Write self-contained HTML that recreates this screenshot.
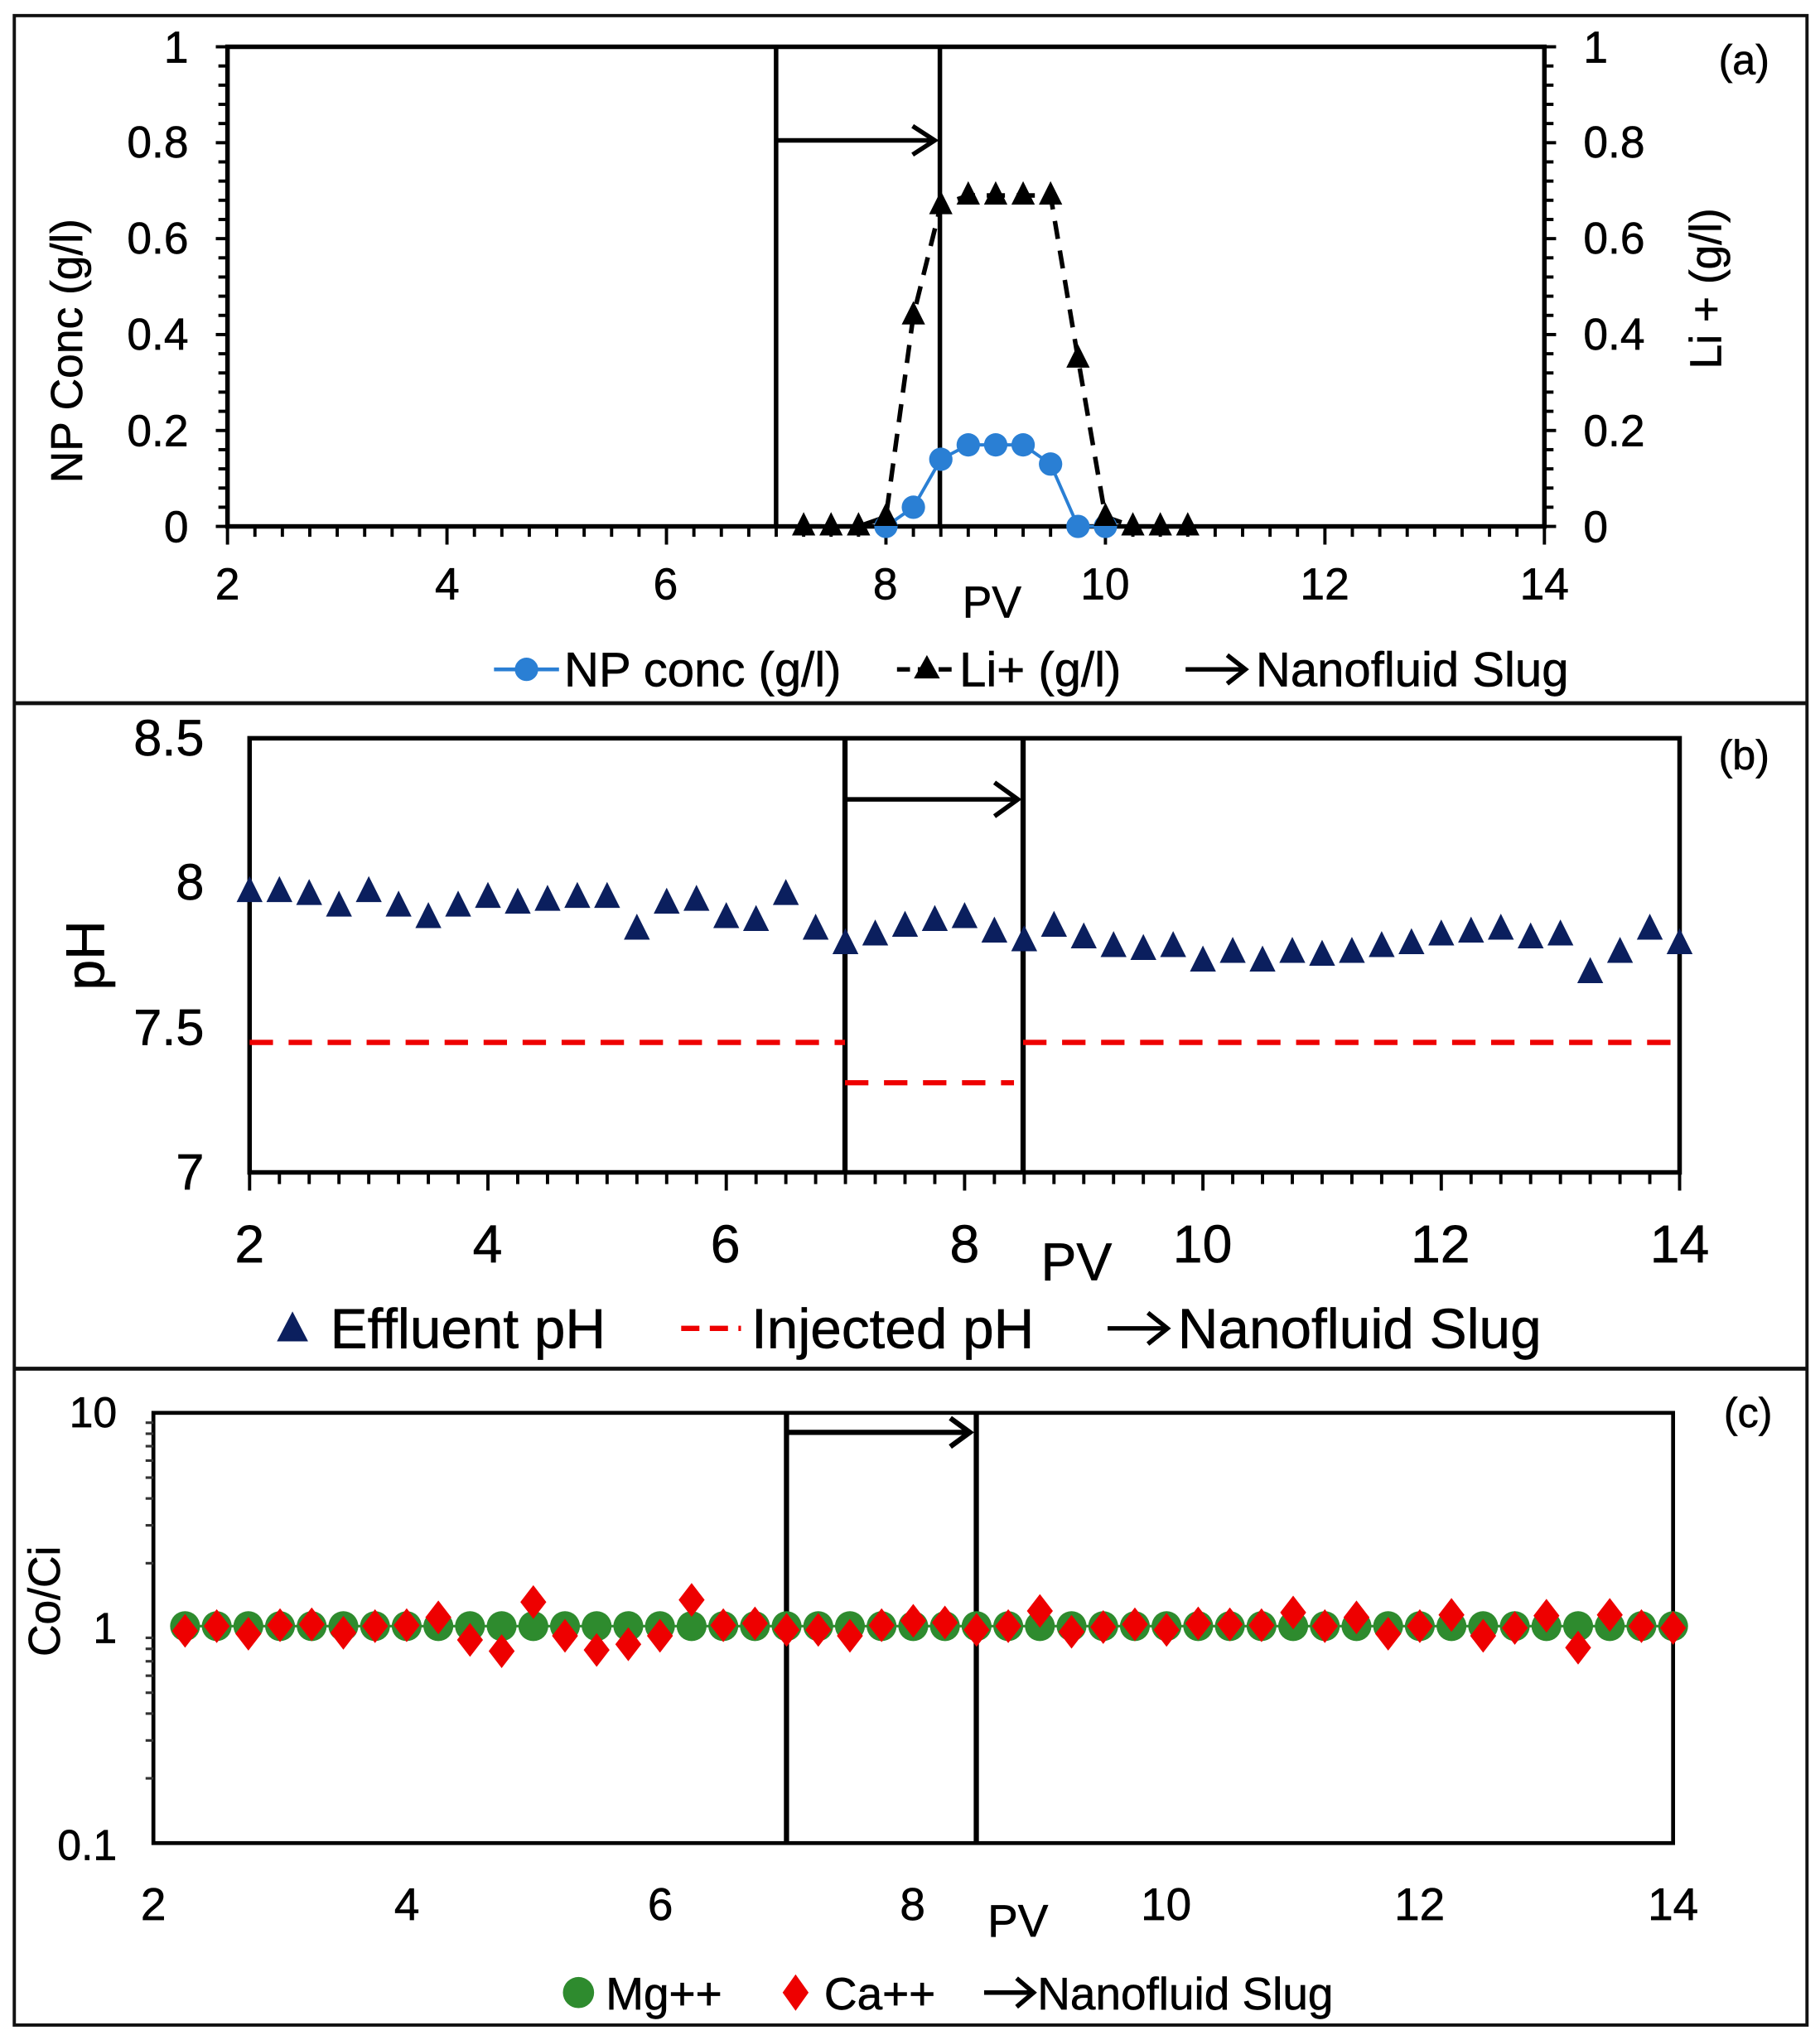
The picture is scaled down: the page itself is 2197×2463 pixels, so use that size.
<!DOCTYPE html>
<html><head><meta charset="utf-8">
<style>
html,body{margin:0;padding:0;background:#fff}
svg{display:block}
text{font-family:"Liberation Sans",Arial,sans-serif;fill:#000;stroke:#000;stroke-width:0.4}
</style></head>
<body>
<svg id="s" xmlns="http://www.w3.org/2000/svg" width="2197" height="2463" viewBox="0 0 1400 1569.5" preserveAspectRatio="none">
<rect x="0" y="0" width="1400" height="1569.5" fill="#fff"/>
<rect x="11" y="12" width="1379" height="1546" fill="none" stroke="#111" stroke-width="2.5"/>
<line x1="11" y1="541" x2="1390" y2="541" stroke="#111" stroke-width="3"/>
<line x1="11" y1="1053" x2="1390" y2="1053" stroke="#111" stroke-width="3"/>

<!-- Panel a -->
<g id="pa">
<rect x="175" y="36" width="1013" height="369" fill="none" stroke="#000" stroke-width="3.5"/>
<line x1="597" y1="36" x2="597" y2="405" stroke="#000" stroke-width="3.5"/>
<line x1="723" y1="36" x2="723" y2="405" stroke="#000" stroke-width="3.5"/>
<line x1="597" y1="108" x2="719" y2="108" stroke="#000" stroke-width="3.5"/>
<polyline points="702,97 719,108 702,119" fill="none" stroke="#000" stroke-width="3.5"/>
<g font-size="34" text-anchor="end">
<text x="145" y="417">0</text><text x="145" y="343">0.2</text><text x="145" y="269">0.4</text><text x="145" y="195">0.6</text><text x="145" y="121">0.8</text><text x="145" y="48">1</text>
</g>
<g font-size="34" text-anchor="start">
<text x="1218" y="417">0</text><text x="1218" y="343">0.2</text><text x="1218" y="269">0.4</text><text x="1218" y="195">0.6</text><text x="1218" y="121">0.8</text><text x="1218" y="48">1</text>
</g>
<g font-size="34" text-anchor="middle">
<text x="175" y="461">2</text><text x="344" y="461">4</text><text x="512" y="461">6</text><text x="681" y="461">8</text><text x="850" y="461">10</text><text x="1019" y="461">12</text><text x="1188" y="461">14</text>
<text x="763" y="475">PV</text>
</g>
<text font-size="34" text-anchor="middle" transform="translate(63,270) rotate(-90)">NP Conc (g/l)</text>
<text font-size="34" text-anchor="middle" transform="translate(1324,222) rotate(-90)">Li + (g/l)</text>
<text font-size="32" x="1322" y="57">(a)</text>
<line x1="380" y1="515" x2="430" y2="515" stroke="#2a7fd4" stroke-width="3"/>
<circle cx="405" cy="515" r="9" fill="#2a7fd4"/>
<text font-size="37" x="434" y="528">NP conc (g/l)</text>
<line x1="690" y1="515" x2="736" y2="515" stroke="#000" stroke-width="3.5" stroke-dasharray="10,6"/>
<polygon points="713,504 723,522 703,522" fill="#000"/>
<text font-size="37" x="738" y="528">Li+ (g/l)</text>
<line x1="912" y1="515" x2="958" y2="515" stroke="#000" stroke-width="3.5"/>
<polyline points="944,504 958,515 944,526" fill="none" stroke="#000" stroke-width="3.5"/>
<text font-size="37" x="966" y="528">Nanofluid Slug</text>
</g>

<!-- Panel b -->
<g id="pb">
<rect x="192" y="568" width="1100" height="334" fill="none" stroke="#000" stroke-width="3.5"/>
<line x1="650" y1="568" x2="650" y2="902" stroke="#000" stroke-width="4"/>
<line x1="787" y1="568" x2="787" y2="902" stroke="#000" stroke-width="4"/>
<line x1="650" y1="615" x2="783" y2="615" stroke="#000" stroke-width="3.5"/>
<polyline points="765,602 783,615 765,628" fill="none" stroke="#000" stroke-width="3.5"/>
<line x1="192" y1="802" x2="650" y2="802" stroke="#e00" stroke-width="4" stroke-dasharray="18,12"/>
<line x1="787" y1="802" x2="1292" y2="802" stroke="#e00" stroke-width="4" stroke-dasharray="18,12"/>
<line x1="650" y1="833" x2="780" y2="833" stroke="#e00" stroke-width="4" stroke-dasharray="18,12"/>
<g font-size="39" text-anchor="end">
<text x="157" y="915">7</text><text x="157" y="804">7.5</text><text x="157" y="692">8</text><text x="157" y="581">8.5</text>
</g>
<g font-size="41" text-anchor="middle">
<text x="192" y="971">2</text><text x="375" y="971">4</text><text x="558" y="971">6</text><text x="742" y="971">8</text><text x="925" y="971">10</text><text x="1108" y="971">12</text><text x="1292" y="971">14</text>
<text x="828" y="985">PV</text>
</g>
<text font-size="42" text-anchor="middle" transform="translate(80,735) rotate(-90)">pH</text>
<text font-size="32" x="1322" y="592">(b)</text>
<polygon points="225,1009 237,1032 213,1032" fill="#0b1f5e"/>
<text font-size="43" x="254" y="1037">Effluent pH</text>
<line x1="524" y1="1022" x2="570" y2="1022" stroke="#e00" stroke-width="4" stroke-dasharray="14,8"/>
<text font-size="43" x="578" y="1037">Injected pH</text>
<line x1="852" y1="1022" x2="898" y2="1022" stroke="#000" stroke-width="3.5"/>
<polyline points="883,1010 898,1022 883,1034" fill="none" stroke="#000" stroke-width="3.5"/>
<text font-size="43" x="906" y="1037">Nanofluid Slug</text>
</g>

<!-- Panel c -->
<g id="pc">
<rect x="118" y="1087" width="1169" height="331" fill="none" stroke="#000" stroke-width="3"/>
<line x1="605" y1="1087" x2="605" y2="1418" stroke="#000" stroke-width="4"/>
<line x1="751" y1="1087" x2="751" y2="1418" stroke="#000" stroke-width="4"/>
<line x1="605" y1="1102" x2="746" y2="1102" stroke="#000" stroke-width="4"/>
<polyline points="731,1091 746,1102 731,1113" fill="none" stroke="#000" stroke-width="4"/>
<g font-size="33" text-anchor="end">
<text x="90" y="1098">10</text><text x="90" y="1264">1</text><text x="90" y="1431">0.1</text>
</g>
<g font-size="35" text-anchor="middle">
<text x="118" y="1477">2</text><text x="313" y="1477">4</text><text x="508" y="1477">6</text><text x="702" y="1477">8</text><text x="897" y="1477">10</text><text x="1092" y="1477">12</text><text x="1287" y="1477">14</text>
<text x="783" y="1490">PV</text>
</g>
<text font-size="34" text-anchor="middle" transform="translate(46,1232) rotate(-90)">Co/Ci</text>
<text font-size="32" x="1326" y="1098">(c)</text>
<circle cx="445" cy="1533" r="12" fill="#2e8b2e"/>
<text font-size="35" x="466" y="1546">Mg++</text>
<polygon points="612,1519 622,1533 612,1547 602,1533" fill="#e00"/>
<text font-size="35" x="634" y="1546">Ca++</text>
<line x1="757" y1="1533" x2="795" y2="1533" stroke="#000" stroke-width="3.5"/>
<polyline points="782,1522 795,1533 782,1544" fill="none" stroke="#000" stroke-width="3.5"/>
<text font-size="35" x="798" y="1546">Nanofluid Slug</text>
</g>
<g id="dyn"></g>
</svg>
<script>
(function(){
var g=document.getElementById("dyn"),o="";
function ax(v){return 175+(v-2)*1013/12}
function ay(v){return 405-v*369}
for(var v=2;v<=14.001;v+=0.25){var maj=Math.abs(v-Math.round(v/2)*2)<1e-6;o+='<line x1="'+ax(v)+'" y1="405" x2="'+ax(v)+'" y2="'+(405+(maj?14:8))+'" stroke="#000" stroke-width="2.5"/>';}
for(var i=0;i<=25;i++){var y=405-i*369/25,m=i%5==0;o+='<line x1="'+(175-(m?9:7))+'" y1="'+y+'" x2="175" y2="'+y+'" stroke="#000" stroke-width="2.5"/>';o+='<line x1="1188" y1="'+y+'" x2="'+(1188+(m?9:7))+'" y2="'+y+'" stroke="#000" stroke-width="2.5"/>';}
var li=[[7.25,0],[7.5,0],[7.75,0],[8,0.02],[8.25,0.44],[8.5,0.67],[8.75,0.69],[9,0.69],[9.25,0.69],[9.5,0.69],[9.75,0.35],[10,0.02],[10.25,0],[10.5,0],[10.75,0]];
var p="";li.forEach(function(d){p+=ax(d[0])+","+ay(d[1])+" "});
o+='<polyline points="'+p+'" fill="none" stroke="#000" stroke-width="3.5" stroke-dasharray="14,9"/>';
var np=[[8,0],[8.25,0.04],[8.5,0.14],[8.75,0.17],[9,0.17],[9.25,0.17],[9.5,0.13],[9.75,0],[10,0]];
p="";np.forEach(function(d){p+=ax(d[0])+","+ay(d[1])+" "});
o+='<polyline points="'+p+'" fill="none" stroke="#2a7fd4" stroke-width="2.5"/>';
np.forEach(function(d){o+='<circle cx="'+ax(d[0])+'" cy="'+ay(d[1])+'" r="9" fill="#2a7fd4"/>'});
li.forEach(function(d){var x=ax(d[0]),y=ay(d[1]);o+='<polygon points="'+x+','+(y-11)+' '+(x+9)+','+(y+7)+' '+(x-9)+','+(y+7)+'" fill="#000"/>'});
function bx(v){return 192+(v-2)*1100/12}
function by(v){return 902-(v-7)*334/1.5}
for(var v=2;v<=14.001;v+=0.25){var maj=Math.abs(v-Math.round(v/2)*2)<1e-6;o+='<line x1="'+bx(v)+'" y1="902" x2="'+bx(v)+'" y2="'+(902+(maj?14:9))+'" stroke="#000" stroke-width="2.5"/>';}
var ph=[7.97,7.97,7.96,7.92,7.97,7.92,7.88,7.92,7.95,7.93,7.94,7.95,7.95,7.84,7.93,7.94,7.88,7.87,7.96,7.84,7.79,7.82,7.85,7.87,7.88,7.83,7.8,7.85,7.81,7.78,7.77,7.78,7.73,7.76,7.73,7.76,7.75,7.76,7.78,7.79,7.82,7.83,7.84,7.81,7.82,7.69,7.76,7.84,7.79];
ph.forEach(function(v,i){var x=bx(2+i*0.25),y=by(v);o+='<polygon points="'+x+','+(y-12)+' '+(x+10)+','+(y+8)+' '+(x-10)+','+(y+8)+'" fill="#0b1f5e"/>'});
function cx(v){return 118+(v-2)*1169/12}
function cy(v){return 1252.5-Math.log10(v)*165.5}
for(var d=-1;d<=0;d++){for(var k=2;k<=9;k++){var y=cy(k*Math.pow(10,d));o+='<line x1="112" y1="'+y+'" x2="118" y2="'+y+'" stroke="#333" stroke-width="2"/>';}}
var mgp="";for(var v=2.25;v<=14.001;v+=0.25){mgp+=cx(v)+","+cy(1.02)+" ";}
o+='<polyline points="'+mgp+'" fill="none" stroke="#2e8b2e" stroke-width="2"/>';
for(var v=2.25;v<=14.001;v+=0.25){o+='<circle cx="'+cx(v)+'" cy="'+cy(1.02)+'" r="11.5" fill="#2e8b2e"/>';}
var ca=[0.97,1.02,0.94,1.03,1.04,0.95,1.02,1.03,1.12,0.88,0.78,1.32,0.92,0.79,0.84,0.92,1.35,1.03,1.05,0.98,0.98,0.92,1.03,1.08,1.06,0.98,1.02,1.2,0.96,1.01,1.04,0.98,1.05,1.04,1.03,1.18,1.02,1.12,0.94,1.02,1.15,0.92,1.0,1.14,0.81,1.15,1.02,1.0];
ca.forEach(function(v,i){var x=cx(2.25+i*0.25),y=cy(v);o+='<polygon points="'+x+','+(y-13)+' '+(x+10)+','+y+' '+x+','+(y+13)+' '+(x-10)+','+y+'" fill="#e00"/>'});
g.innerHTML=o;
})();
</script>
</body></html>
